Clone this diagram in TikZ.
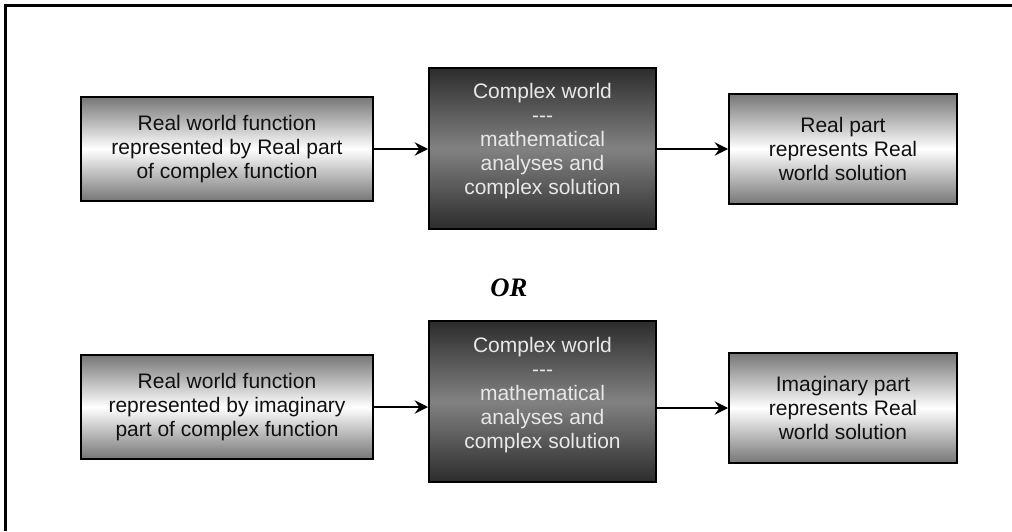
\documentclass[tikz,border=0pt]{standalone}
\usepackage{fontspec}
\setmainfont{Liberation Sans}
\newfontfamily\orfont{Liberation Serif}
\usetikzlibrary{arrows.meta,calc}
\definecolor{sideedge}{HTML}{767676}
\definecolor{cdark}{HTML}{2C2C2C}
\definecolor{cmid}{HTML}{828282}
\definecolor{ctxt}{HTML}{E8E8E8}
\definecolor{stxt}{HTML}{111111}
\newcommand{\tripledash}{-\kern0pt-\kern0pt-}
\begin{document}
\begin{tikzpicture}[x=0.75pt,y=-0.75pt,
  sidebox/.style={draw=black, line width=1.5pt, top color=sideedge, bottom color=sideedge, middle color=white,
    align=center, font=\fontsize{15.75}{18}\selectfont, text=stxt, inner sep=0pt},
  cbox/.style={draw=black, line width=1.5pt, top color=cdark, bottom color=cdark, middle color=cmid, inner sep=0pt,
    minimum width=170.25pt, minimum height=120.75pt},
  ctext/.style={align=center, text=ctxt, font=\fontsize{15.75}{18}\selectfont, inner sep=0pt},
  leftbox/.style={sidebox, minimum width=219pt, minimum height=78pt},
  rightbox/.style={sidebox, minimum width=171pt, minimum height=82.5pt},
  arr/.style={line width=1.5pt, -{Stealth[length=10pt,width=10pt,inset=3.5pt]}},
  frameline/.style={line width=2.25pt, line join=miter}
]
\useasboundingbox (0,0) rectangle (1012,531);
\draw[frameline] (5,531) -- (5,6) -- (1012,6);

% top row
\node[leftbox] (b1) at (227,149) {Real world function\\represented by Real part\\of complex function};
\node[cbox] (c1) at (542.5,148.5) {};
\node[ctext] (t1) at (542.5,141) {Complex world\\\tripledash\\mathematical\\analyses and\\complex solution};
\node[rightbox] (r1) at (843,149) {Real part\\represents Real\\world solution};
\draw[arr] (b1.east) -- (b1.east -| c1.west);
\draw[arr] (c1.east |- r1.west) -- (r1.west);

% OR
\node[font=\orfont\fontsize{20}{24}\selectfont\bfseries\itshape, inner sep=0pt] (or) at (509,288) {OR};

% bottom row
\node[leftbox] (b2) at (227,407) {Real world function\\represented by imaginary\\part of complex function};
\node[cbox] (c2) at (542.5,401.5) {};
\node[ctext] (t2) at (542.5,395) {Complex world\\\tripledash\\mathematical\\analyses and\\complex solution};
\node[rightbox] (r2) at (843,408) {Imaginary part\\represents Real\\world solution};
\draw[arr] (b2.east) -- (b2.east -| c2.west);
\draw[arr] (c2.east |- r2.west) -- (r2.west);
\end{tikzpicture}
\end{document}
